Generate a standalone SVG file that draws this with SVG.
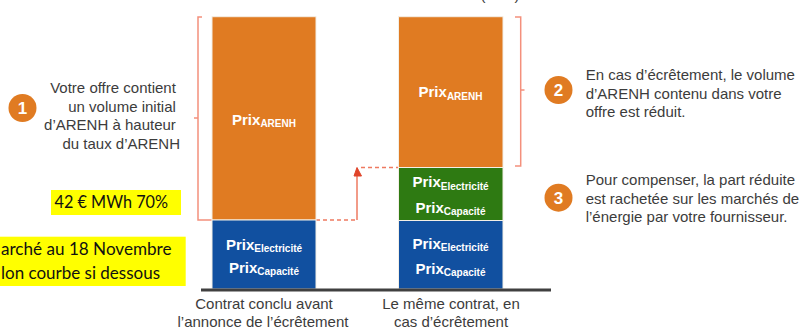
<svg xmlns="http://www.w3.org/2000/svg" width="806" height="329" viewBox="0 0 806 329">
<style>
.t{font-family:"Liberation Sans",Arial,sans-serif;font-size:15px;fill:#3c3c3c}
.lab{font-family:"Liberation Sans",Arial,sans-serif;font-size:15px;font-weight:bold;fill:#ffffff}
.sub{font-size:10px}
.num{font-family:"Liberation Sans",Arial,sans-serif;font-size:17px;font-weight:bold;fill:#ffffff}
.y{font-family:Lato,"Open Sans",sans-serif;font-size:17px;fill:#111111}
.br{fill:none;stroke:#f4907c;stroke-width:1.5}
.or{fill:#e07b22}
.bl{fill:#1150a0}
.gr{fill:#2e7a12}
.seg{stroke:#f3efe6;stroke-width:1}
</style>
<defs>
<marker id="ah" markerWidth="8" markerHeight="9" refX="4" refY="0" orient="auto-start-reverse" markerUnits="userSpaceOnUse" viewBox="0 0 8 9">
<path d="M0,9 L4,0 L8,9 Z" fill="#e0452a"/>
</marker>
</defs>
<text class="t" x="500" y="0" text-anchor="middle" xml:space="preserve">(       )</text>
<g id="connectors">
<path class="br" d="M202,17 H198 V220 H212 M198,118 H194"/>
<path class="br" d="M515,17 H520.7 V166 H515 M520.7,90 H524.5"/>
<path d="M316,220 H357" fill="none" stroke="#ee7a60" stroke-width="1.5" stroke-dasharray="4,3"/>
<path d="M357,220 V176" fill="none" stroke="#ee7a60" stroke-width="1.5"/>
<path d="M354,176 L357,167.5 L361.5,176 Z" fill="#e0452a" stroke="#e0452a" stroke-width="1"/>
<path d="M361,167.5 H398" fill="none" stroke="#ee7a60" stroke-width="1.5" stroke-dasharray="4,3"/>
</g>
<g id="bar-left">
<rect class="or seg" x="212" y="16.7" width="104" height="203.3"/>
<rect class="bl seg" x="212" y="220" width="104" height="69"/>
<text class="lab" x="264" y="124.5" text-anchor="middle">Prix<tspan class="sub" dy="2.5">ARENH</tspan></text>
<text class="lab" x="264" y="249.5" text-anchor="middle">Prix<tspan class="sub" dy="2.5">Electricité</tspan></text>
<text class="lab" x="264" y="272.5" text-anchor="middle">Prix<tspan class="sub" dy="2.5">Capacité</tspan></text>
</g>
<g id="bar-right">
<rect class="or seg" x="398.5" y="16.7" width="104.5" height="150.8"/>
<rect class="gr seg" x="398.5" y="167.5" width="104.5" height="53"/>
<rect class="bl seg" x="398.5" y="220.5" width="104.5" height="68.5"/>
<text class="lab" x="450.5" y="97" text-anchor="middle">Prix<tspan class="sub" dy="2.5">ARENH</tspan></text>
<text class="lab" x="450.5" y="187" text-anchor="middle">Prix<tspan class="sub" dy="2.5">Electricité</tspan></text>
<text class="lab" x="450.5" y="212.5" text-anchor="middle">Prix<tspan class="sub" dy="2.5">Capacité</tspan></text>
<text class="lab" x="450.5" y="248.5" text-anchor="middle">Prix<tspan class="sub" dy="2.5">Electricité</tspan></text>
<text class="lab" x="450.5" y="273.5" text-anchor="middle">Prix<tspan class="sub" dy="2.5">Capacité</tspan></text>
</g>
<g id="axis">
<line x1="201" y1="290" x2="551" y2="290" stroke="#404040" stroke-width="3"/>
<text class="t" x="264" y="308.5" text-anchor="middle">Contrat conclu avant</text>
<text class="t" x="263" y="326.5" text-anchor="middle">l’annonce de l’écrêtement</text>
<text class="t" x="451" y="308.5" text-anchor="middle">Le même contrat, en</text>
<text class="t" x="451" y="326.5" text-anchor="middle">cas d’écrêtement</text>
</g>
<g id="step1">
<circle cx="22.5" cy="108" r="14" fill="#e07b22"/>
<text class="num" x="22.5" y="114" text-anchor="middle">1</text>
<text class="t" text-anchor="end" x="180">
<tspan x="180" y="93.3">Votre offre contient</tspan>
<tspan x="180" y="111.8">un volume initial</tspan>
<tspan x="180" y="130.2">d’ARENH à hauteur</tspan>
<tspan x="180" y="148.6">du taux d’ARENH</tspan>
</text>
</g>
<g id="step2">
<circle cx="558.5" cy="90" r="14" fill="#e07b22"/>
<text class="num" x="558.5" y="96" text-anchor="middle">2</text>
<text class="t">
<tspan x="585.7" y="80.2">En cas d’écrêtement, le volume</tspan>
<tspan x="585.7" y="98.5">d’ARENH contenu dans votre</tspan>
<tspan x="585.7" y="116.8">offre est réduit.</tspan>
</text>
</g>
<g id="step3">
<circle cx="558.5" cy="197.7" r="14" fill="#e07b22"/>
<text class="num" x="558.5" y="203.7" text-anchor="middle">3</text>
<text class="t">
<tspan x="585.7" y="185.2">Pour compenser, la part réduite</tspan>
<tspan x="585.7" y="203.5">est rachetée sur les marchés de</tspan>
<tspan x="585.7" y="221.8">l’énergie par votre fournisseur.</tspan>
</text>
</g>
<g id="note1">
<rect x="51" y="190" width="130" height="25" fill="#ffff00"/>
<text class="y" x="54.5" y="207.5" textLength="113.5" lengthAdjust="spacingAndGlyphs">42 € MWh 70%</text>
</g>
<g id="note2">
<rect x="0" y="236.7" width="185.7" height="49.3" fill="#ffff00"/>
<text class="y" x="1" y="255" textLength="170.5" lengthAdjust="spacingAndGlyphs">arché au 18 Novembre</text>
<text class="y" x="1" y="278.5" textLength="159" lengthAdjust="spacingAndGlyphs">lon courbe si dessous</text>
</g>
</svg>
